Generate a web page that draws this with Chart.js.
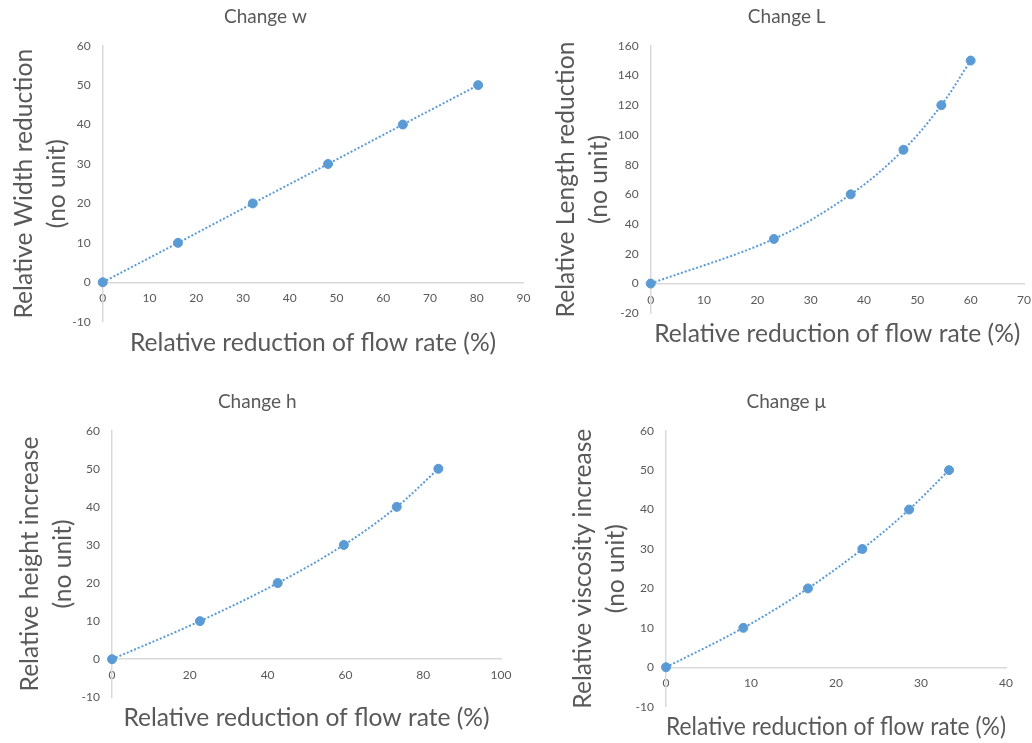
<!DOCTYPE html>
<html><head><meta charset="utf-8">
<script src="https://cdn.jsdelivr.net/npm/chart.js@4.4.0/dist/chart.umd.min.js"></script>
<style>
html,body{margin:0;padding:0;background:#fff;}
body{width:1032px;height:743px;position:relative;overflow:hidden;}
</style></head><body>
<script>
// ---- data ----
const flowW = [0, 16.1, 32.1, 48.2, 64.2, 80.3];
const relW  = [0, 10, 20, 30, 40, 50];
const flowL = [0, 23.1, 37.5, 47.4, 54.5, 60.0];
const relL  = [0, 30, 60, 90, 120, 150];
const flowH = [0, 22.6, 42.6, 59.6, 73.2, 83.9];
const relH  = [0, 10, 20, 30, 40, 50];
const flowMu = [0, 9.1, 16.7, 23.1, 28.6, 33.3];
const relMu  = [0, 10, 20, 30, 40, 50];

const xTicksW = [0,10,20,30,40,50,60,70,80,90];
const yTicksW = [-10,0,10,20,30,40,50,60];
const xTicksL = [0,10,20,30,40,50,60,70];
const yTicksL = [-20,0,20,40,60,80,100,120,140,160];
const xTicksH = [0,20,40,60,80,100];
const yTicksH = [-10,0,10,20,30,40,50,60];
const xTicksMu = [0,10,20,30,40];
const yTicksMu = [-10,0,10,20,30,40,50,60];

const titles = ['Change w', 'Change L', 'Change h', 'Change \u03bc'];
const yTitles = [
  ['Relative Width reduction', '(no unit)'],
  ['Relative Length reduction', '(no unit)'],
  ['Relative height increase', '(no unit)'],
  ['Relative viscosity increase', '(no unit)']
];
const xTitle = 'Relative reduction of flow rate (%)';

// ---- style ----
const FONT = 'Lato, "Open Sans", sans-serif';
const GREY = '#595959';
const BLUE = '#5B9BD5';
const AXIS = '#d9d9d9';
const T_SIZE = 19, A_SIZE = 24.6, K_SIZE = 12;

function makeChart(o) {
  const r = o.rect, p = o.plot;
  const c = document.createElement('canvas');
  c.width = r.w; c.height = r.h;
  c.style.cssText = 'position:absolute;left:' + r.x + 'px;top:' + r.y + 'px;width:' + r.w + 'px;height:' + r.h + 'px';
  document.body.appendChild(c);
  const tLH = T_SIZE * 1.2, yLH = A_SIZE * 1.35, sLH = A_SIZE * 1.2;
  const padL = o.yTitleX - yLH / 2 - r.x;
  const yw = p.left - r.x - padL;
  const padR = r.x + r.w - p.right;
  const tTop = o.titleY - r.y - tLH / 2;
  const tBot = p.top - r.y - tLH - tTop;
  const sTop = o.subY - p.bottom - sLH / 2;
  const padB = r.y + r.h - p.bottom - sTop - sLH;
  const pts = o.xs.map((x, i) => ({x: x, y: o.ys[i]}));
  new Chart(c, {
    type: 'scatter',
    data: {datasets: [{
      data: pts, showLine: true, tension: 0.35,
      borderColor: BLUE, borderWidth: 2, borderDash: [2, 2],
      pointRadius: 4.5, pointBackgroundColor: BLUE, pointBorderColor: BLUE, pointBorderWidth: 1,
      clip: false
    }]},
    options: {
      responsive: false, animation: false, events: [],
      layout: {padding: {left: padL, right: padR, top: 0, bottom: padB}},
      plugins: {
        legend: {display: false}, tooltip: {enabled: false},
        title: {display: true, text: o.title, color: GREY,
          font: {family: FONT, size: T_SIZE, weight: 'normal', lineHeight: 1.2},
          padding: {top: tTop, bottom: tBot}},
        subtitle: {display: true, position: 'bottom', fullSize: false, text: xTitle, color: GREY,
          font: {family: FONT, size: A_SIZE, weight: 'normal', lineHeight: 1.2},
          padding: {top: sTop, bottom: 0}}
      },
      scales: {
        x: {type: 'linear', position: {y: 0},
          min: o.xt[0], max: o.xt[o.xt.length - 1],
          ticks: {stepSize: o.xt[1] - o.xt[0], color: GREY, font: {family: FONT, size: K_SIZE}, padding: 9, maxRotation: 0, autoSkip: false},
          grid: {display: false, drawTicks: false},
          border: {display: true, color: AXIS, width: 1.5},
          title: {display: false},
          afterFit: s => { s.height = 0; s.paddingLeft = 0; s.paddingRight = 0; }
        },
        y: {type: 'linear', position: 'left',
          min: o.yt[0], max: o.yt[o.yt.length - 1],
          ticks: {stepSize: o.yt[1] - o.yt[0], color: GREY, font: {family: FONT, size: K_SIZE}, padding: 12},
          grid: {display: false, drawTicks: false},
          border: {display: true, color: AXIS, width: 1.5},
          title: {display: true, text: o.yTitle, color: GREY, padding: 0,
            font: {family: FONT, size: A_SIZE, weight: 'normal', lineHeight: 1.35}},
          afterFit: s => { s.width = yw; s.paddingTop = 0; s.paddingBottom = 0; }
        }
      }
    }
  });
}

makeChart({rect: {x: 0, y: 0, w: 532, h: 372}, plot: {left: 102.7, right: 523.5, top: 45.7, bottom: 321.7},
  yTitleX: 24, titleY: 17, subY: 343, xs: flowW, ys: relW, xt: xTicksW, yt: yTicksW, title: titles[0], yTitle: yTitles[0]});
makeChart({rect: {x: 536, y: 0, w: 496, h: 372}, plot: {left: 650.7, right: 1024, top: 45.7, bottom: 313.3},
  yTitleX: 566, titleY: 17, subY: 334, xs: flowL, ys: relL, xt: xTicksL, yt: yTicksL, title: titles[1], yTitle: yTitles[1]});
makeChart({rect: {x: 0, y: 376, w: 532, h: 367}, plot: {left: 112, right: 501, top: 430.7, bottom: 697.3},
  yTitleX: 30, titleY: 401.7, subY: 718.5, xs: flowH, ys: relH, xt: xTicksH, yt: yTicksH, title: titles[2], yTitle: yTitles[2]});
makeChart({rect: {x: 536, y: 376, w: 496, h: 367}, plot: {left: 666, right: 1006, top: 430.7, bottom: 706.7},
  yTitleX: 583, titleY: 401.7, subY: 727.5, xs: flowMu, ys: relMu, xt: xTicksMu, yt: yTicksMu, title: titles[3], yTitle: yTitles[3]});
</script>
</body></html>
